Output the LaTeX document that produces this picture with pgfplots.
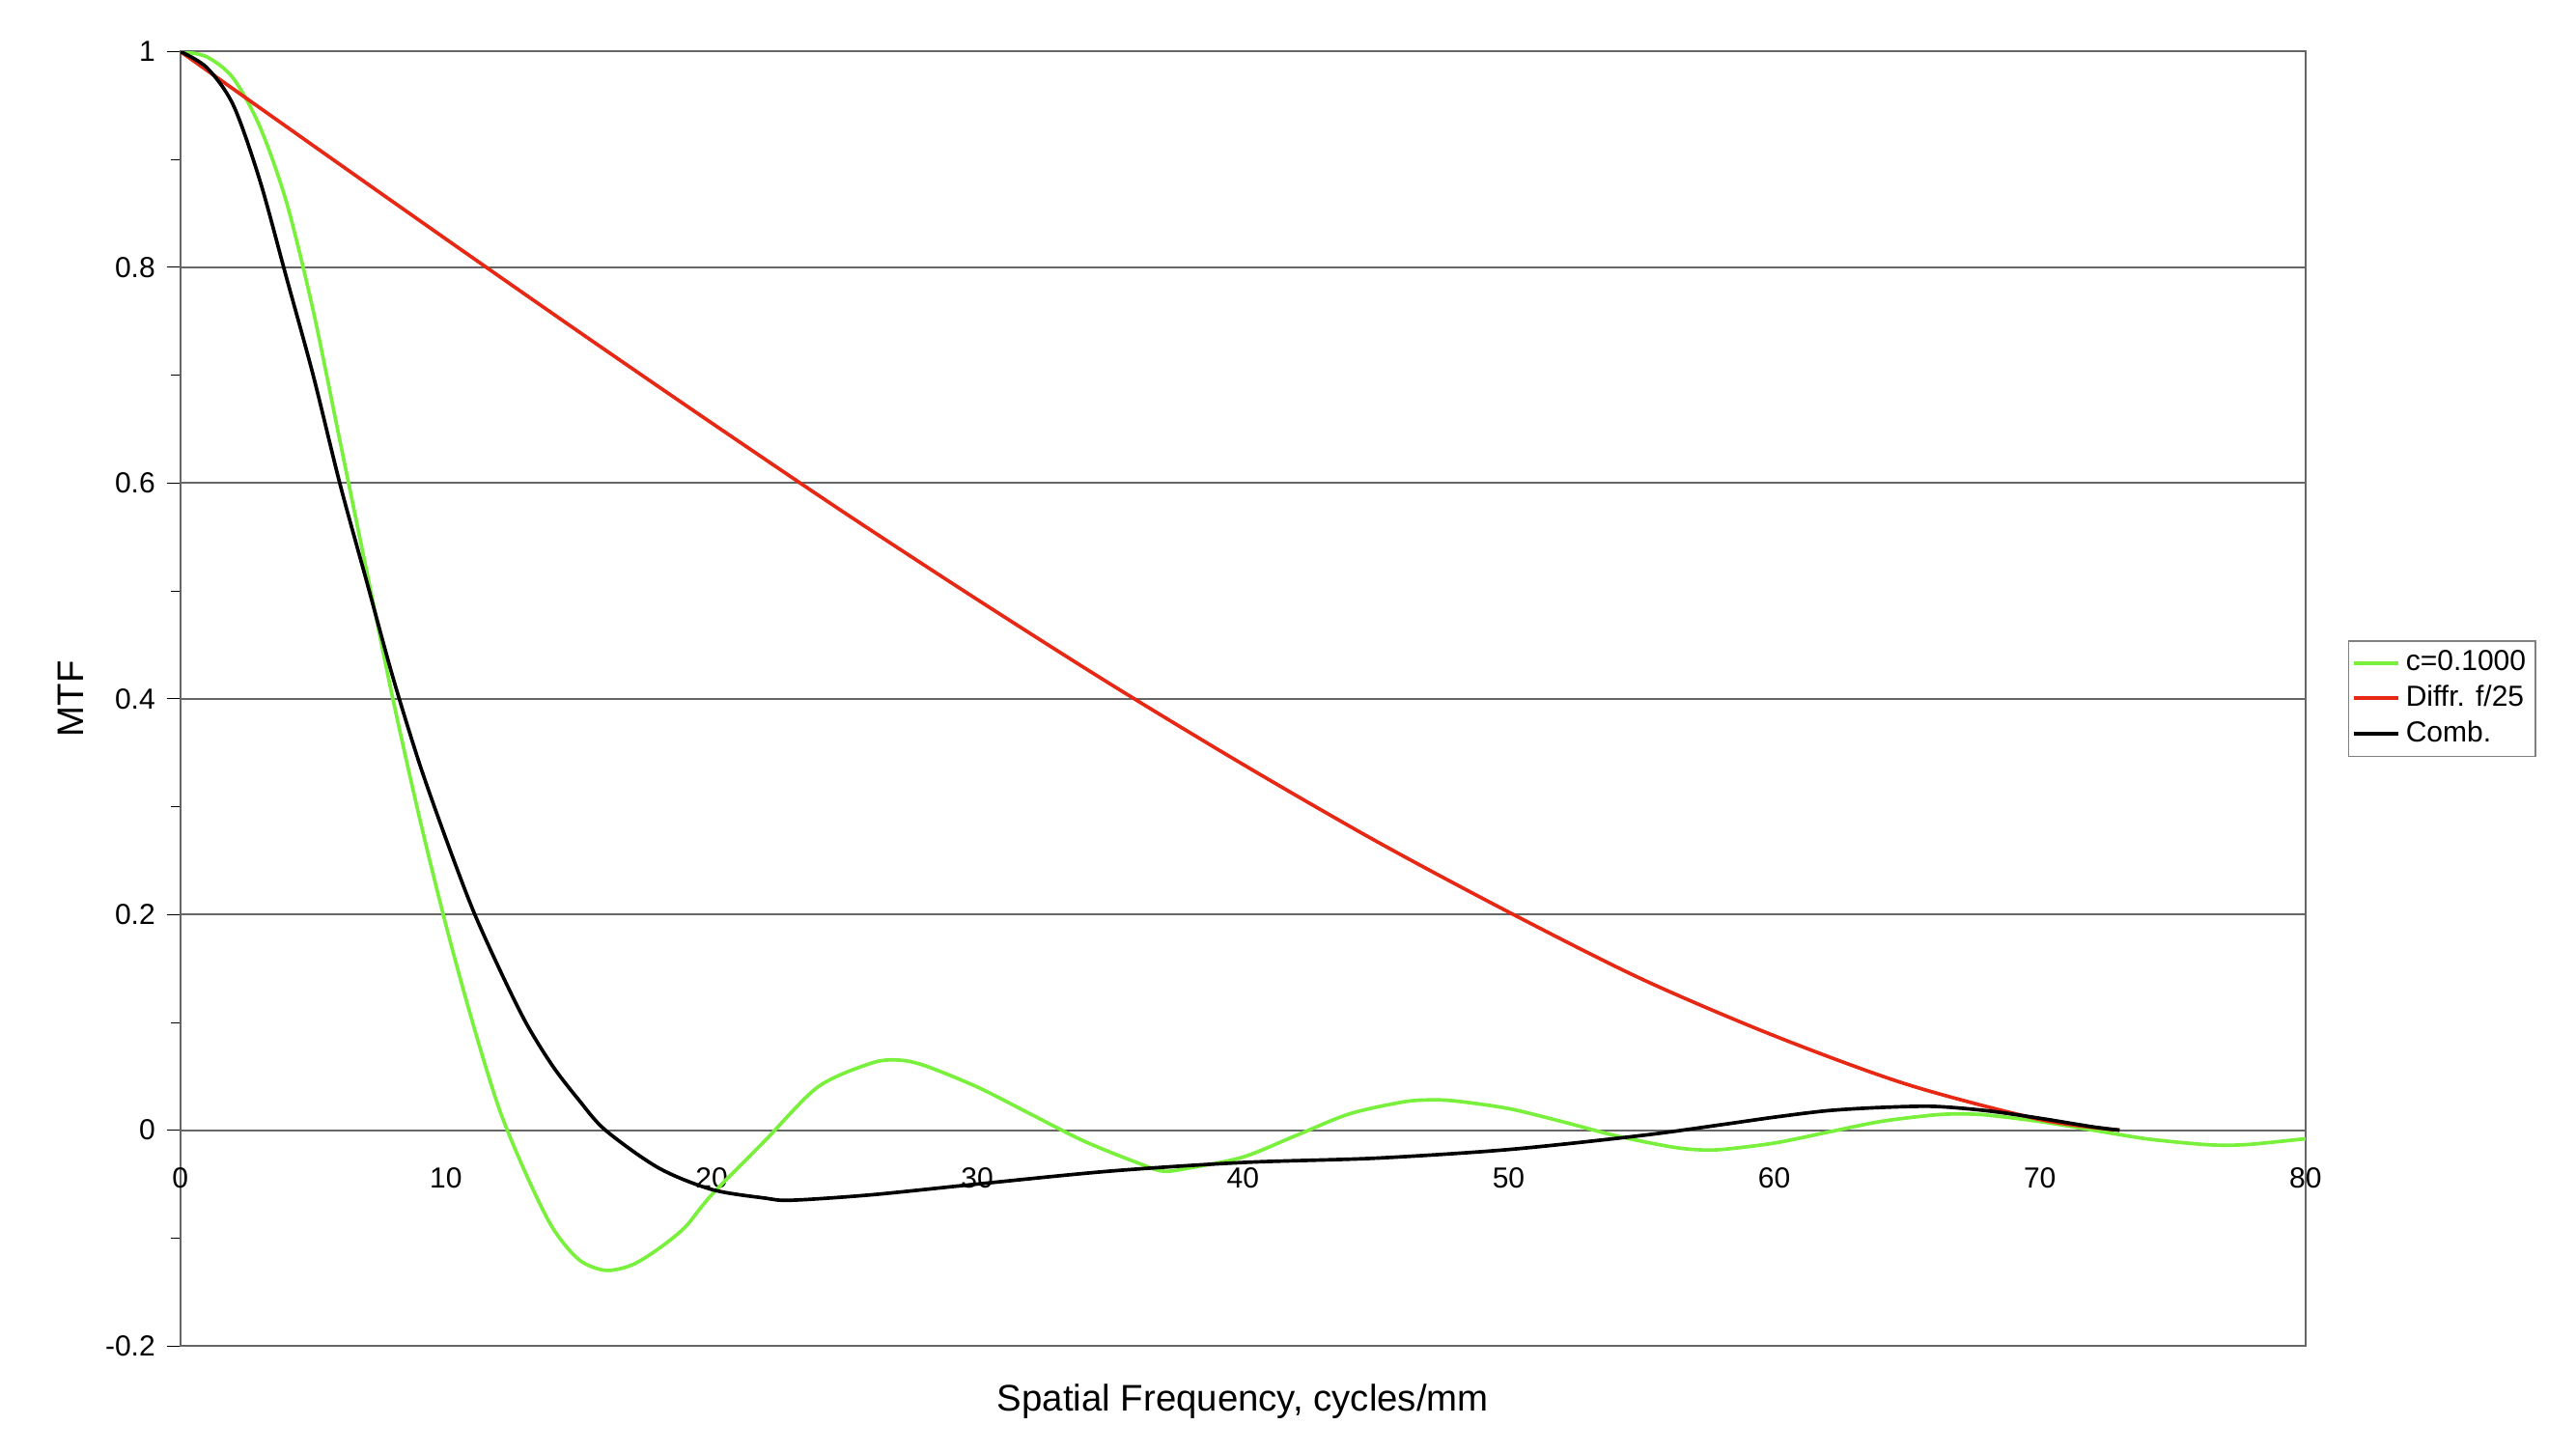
\documentclass[border=0pt]{standalone}
\usepackage{pgfplots}
\pgfplotsset{compat=1.18}
\usepackage{fontspec}
\setmainfont{Liberation Sans}
\usetikzlibrary{calc}
\definecolor{lgreen}{RGB}{120,240,60}
\definecolor{dred}{RGB}{230,40,20}
\begin{document}
\begin{tikzpicture}
\begin{axis}[scale only axis, width=660pt, height=402pt,
 xmin=0, xmax=80, ymin=-0.2, ymax=1,
 xtick={0,10,...,80}, ytick={-0.2,0,...,1},
 yticklabels={-0.2,0,0.2,0.4,0.6,0.8,1},
 minor y tick num=1,
 tick align=outside, xtick pos=bottom, ytick pos=left,
 x tick style={draw=none},
 xticklabel style={yshift=63pt},
 ymajorgrids, grid style={gray!80!black, line width=0.6pt},
 axis line style={gray!80!black, line width=0.6pt},
 tick style={black},
 /pgf/number format/assume math mode=true,
 ticklabel style={font=\fontsize{9}{10}\selectfont},
 xlabel={Spatial Frequency, cycles/mm}, ylabel={MTF},
 label style={font=\fontsize{11.5}{13}\selectfont},
 xlabel style={yshift=-4pt},
 legend style={at={(1.02,0.5)}, anchor=west, font=\fontsize{9}{10.5}\selectfont, draw=gray, inner sep=1pt, row sep=-1pt},
 legend cell align=left,
 legend image post style={xscale=0.8},
]
\coordinate (ll) at (rel axis cs:0,0);
\coordinate (ur) at (rel axis cs:1,1);
\addplot[color=lgreen, line width=1.1pt, smooth] coordinates {
(0,1)(1,0.995)(2,0.975)(3,0.93)(4,0.86)(5,0.76)(6,0.64)(7,0.52)(8,0.40)(9,0.29)(10,0.19)(11,0.10)(12,0.02)(13,-0.04)(14,-0.09)(15,-0.12)(16,-0.13)(17,-0.125)(18,-0.11)(19,-0.09)(20,-0.06)(22,-0.01)(24,0.04)(26,0.062)(27,0.065)(28,0.06)(30,0.04)(32,0.015)(34,-0.01)(36,-0.03)(37,-0.038)(38,-0.035)(40,-0.025)(42,-0.005)(44,0.015)(46,0.026)(47,0.028)(48,0.027)(50,0.02)(52,0.008)(54,-0.005)(56,-0.015)(57,-0.018)(58,-0.018)(60,-0.012)(62,-0.002)(64,0.008)(66,0.014)(67,0.015)(68,0.014)(70,0.008)(72,0.0)(74,-0.008)(76,-0.013)(77,-0.014)(78,-0.013)(80,-0.008)};
\addlegendentry{c=0.1000}
\addplot[color=dred, line width=1.1pt, smooth] coordinates {
(0,1)(5,0.9128)(10,0.8261)(15,0.7402)(20,0.6556)(25,0.5724)(30,0.4919)(35,0.4137)(40,0.3391)(45,0.2681)(50,0.2022)(55,0.1402)(60,0.0875)(65,0.0424)(70,0.0099)(73,0)};
\addlegendentry{Diffr. f/25}
\addplot[black, line width=1.1pt, smooth] coordinates {
(0,1)(1,0.985)(2,0.95)(3,0.88)(4,0.79)(5,0.70)(6,0.60)(7,0.51)(8,0.42)(9,0.34)(10,0.27)(11,0.205)(12,0.15)(13,0.10)(14,0.06)(15,0.028)(16,0.0)(18,-0.035)(20,-0.055)(22,-0.063)(23,-0.065)(26,-0.06)(30,-0.05)(35,-0.038)(40,-0.03)(45,-0.026)(50,-0.018)(55,-0.005)(58,0.005)(60,0.012)(62,0.018)(64,0.021)(66,0.022)(68,0.018)(70,0.011)(72,0.003)(73,0)};
\addlegendentry{Comb.}
\end{axis}
\useasboundingbox ($(ll)+(-56pt,-33pt)$) rectangle ($(ur)+(84pt,16pt)$);
\end{tikzpicture}
\end{document}
